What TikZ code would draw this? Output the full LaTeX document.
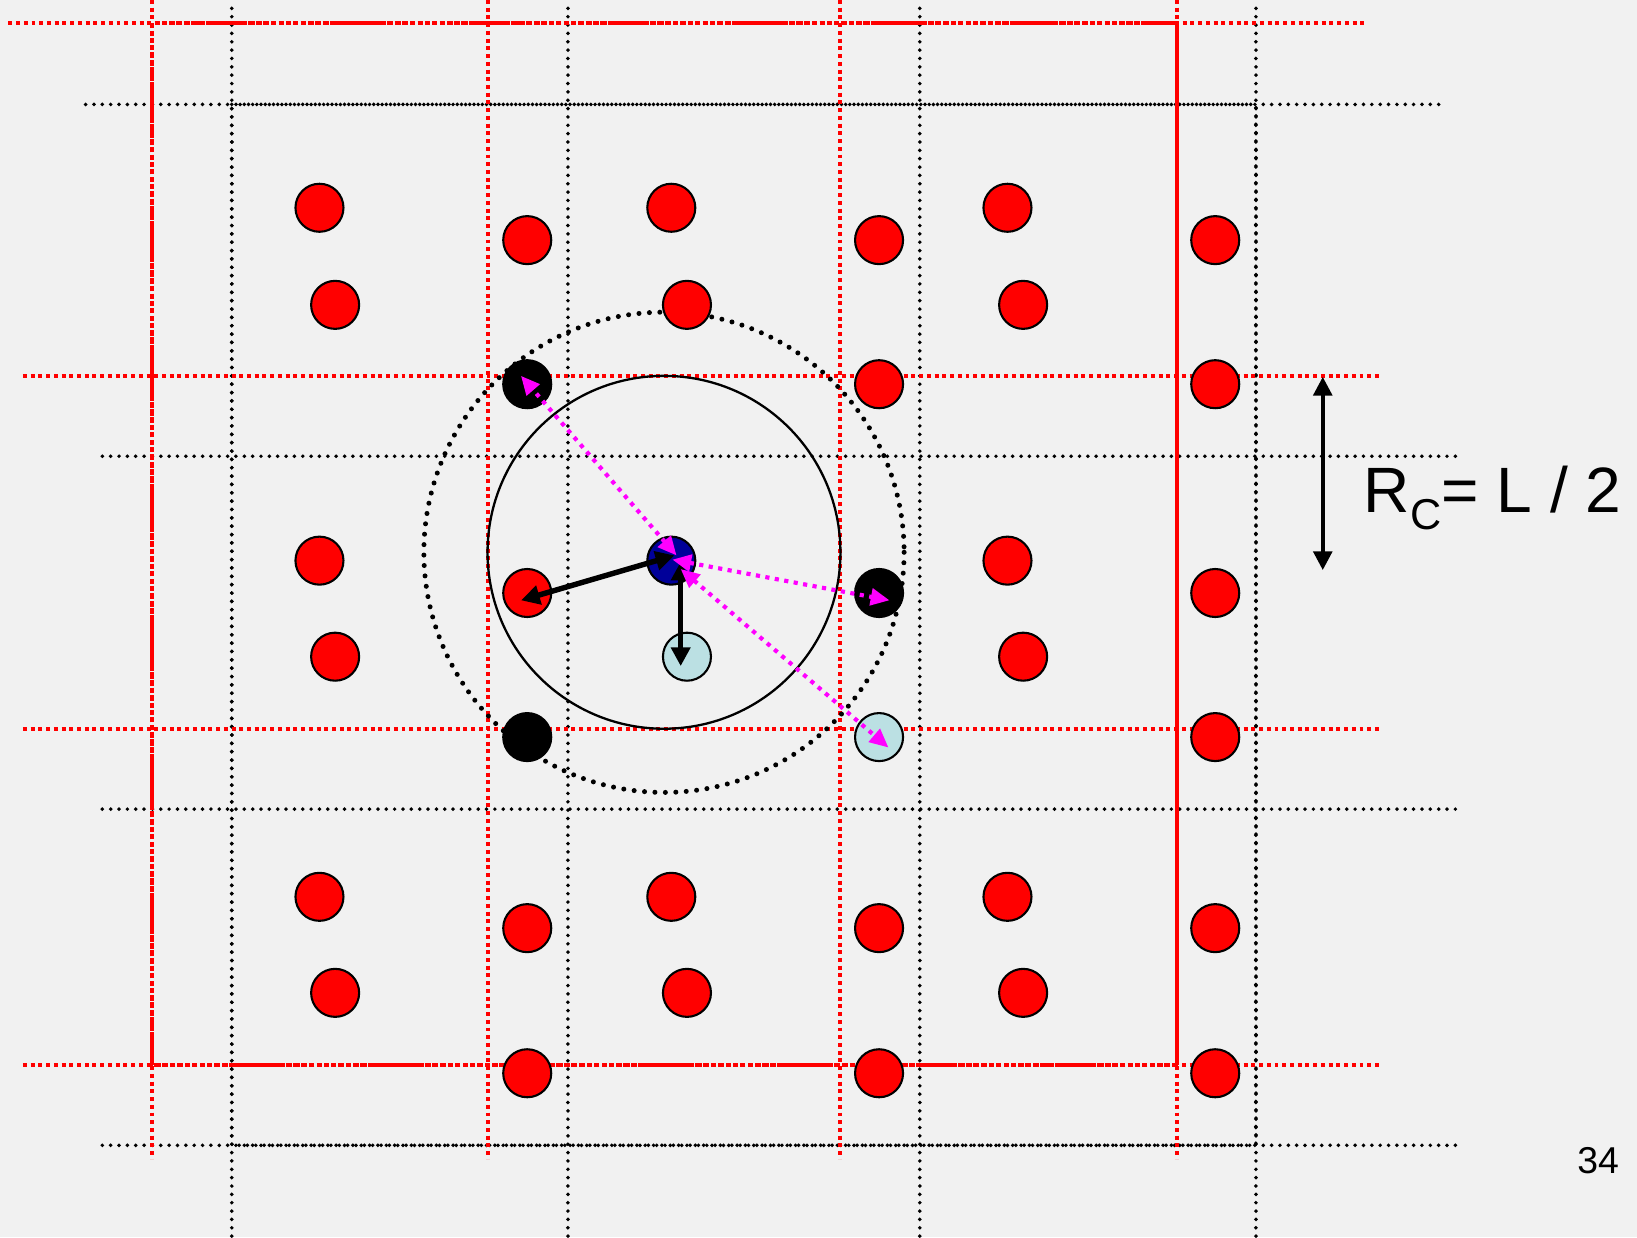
\documentclass[tikz,border=0pt]{standalone}
\usepackage{fontspec}
\setmainfont{Liberation Sans}
\usetikzlibrary{arrows.meta}
\definecolor{bg}{RGB}{241,241,241}
\definecolor{navy}{RGB}{0,0,153}
\definecolor{lblue}{RGB}{187,224,227}
\definecolor{mag}{RGB}{255,0,255}
\begin{document}
\begin{tikzpicture}[x=0.5pt,y=-0.5pt,
  redgrid/.style={red,line width=1.9pt,dash pattern=on 1.9pt off 1.8pt},
  redbox/.style={red,line width=1.9pt,dash pattern=on 2.4pt off 1.1pt},
  blkgrid/.style={black,line width=1.9pt,line cap=round,dash pattern=on 0pt off 4pt},
  blkbox/.style={black,line width=1.9pt,line cap=round,dash pattern=on 0pt off 4pt,dash phase=2pt},
  part/.style={circle,draw=black,line width=1pt,minimum size=23pt,inner sep=0pt},
  redp/.style={part,fill=red},
  blkp/.style={part,fill=black},
  bluep/.style={part,fill=navy},
  lbp/.style={part,fill=lblue},
  blkarrow/.style={line width=2.6pt,{Triangle[length=9pt,width=9pt]}-{Triangle[length=9pt,width=9pt]}},
  magarrow/.style={mag,line width=2pt,dash pattern=on 2pt off 2.6pt,{Triangle[length=9pt,width=8pt]}-{Triangle[length=9pt,width=8pt]}},
  lbl/.style={inner sep=0pt}]
\fill[bg] (0,0) rectangle (1568,1185);
\useasboundingbox (0,0) rectangle (1568,1185);
% black grid
\foreach \x in {222,544,881,1203} \draw[blkgrid] (\x,8) -- (\x,1185);
\draw[blkgrid] (82,100) -- (1382,100);
\foreach \y in {437,775,1097} \draw[blkgrid] (98,\y) -- (1398,\y);
\draw[blkbox] (222,100) rectangle (1203,1097);
% red grid
\foreach \x in {146,467,805,1127} \draw[redgrid] (\x,0) -- (\x,1110);
\draw[redgrid] (8,22) -- (1307,22);
\foreach \y in {360,698,1020} \draw[redgrid] (22,\y) -- (1323,\y);
\draw[redbox] (1127,1020) -- (146,1020) -- (146,22) -- (1127,22);
\draw[red,line width=1.9pt] (1127,22) -- (1127,1020);
% cutoff circles
\coordinate (cc) at (636,529);
\draw[black,line width=1.1pt] (cc) circle[radius=169];
\draw[black,line width=2.4pt,line cap=round,dash pattern=on 0pt off 5pt] (cc) circle[radius=230];
% particles
\node[redp] (a1) at (306,199) {};
\node[redp] (a2) at (643,199) {};
\node[redp] (a3) at (965,199) {};
\node[redp] (b1) at (505,230) {};
\node[redp] (b2) at (842,230) {};
\node[redp] (b3) at (1164,230) {};
\node[redp] (c1) at (321,292) {};
\node[redp] (c2) at (658,292) {};
\node[redp] (c3) at (980,292) {};
\node[blkp] (d1) at (505,368) {};
\node[redp] (d2) at (842,368) {};
\node[redp] (d3) at (1164,368) {};
\node[redp] (e1) at (306,537) {};
\node[bluep] (e2) at (643,537) {};
\node[redp] (e3) at (965,537) {};
\node[redp] (f1) at (505,568) {};
\node[blkp] (f2) at (842,568) {};
\node[redp] (f3) at (1164,568) {};
\node[redp] (g1) at (321,629) {};
\node[lbp] (g2) at (658,629) {};
\node[redp] (g3) at (980,629) {};
\node[blkp] (h1) at (505,706) {};
\node[lbp] (h2) at (842,706) {};
\node[redp] (h3) at (1164,706) {};
\node[redp] (i1) at (306,859) {};
\node[redp] (i2) at (643,859) {};
\node[redp] (i3) at (965,859) {};
\node[redp] (j1) at (505,889) {};
\node[redp] (j2) at (842,889) {};
\node[redp] (j3) at (1164,889) {};
\node[redp] (k1) at (321,951) {};
\node[redp] (k2) at (658,951) {};
\node[redp] (k3) at (980,951) {};
\node[redp] (l1) at (505,1028) {};
\node[redp] (l2) at (842,1028) {};
\node[redp] (l3) at (1164,1028) {};
% arrows
\coordinate (p0) at (646,532);
\coordinate (pl) at (499,575);
\coordinate (pv0) at (652,538);
\coordinate (pv1) at (652,638);
\draw[blkarrow] (p0) -- (pl);
\draw[blkarrow] (pv0) -- (pv1);
\coordinate (m0) at (648,532);
\coordinate (m1) at (499,360);
\coordinate (m2) at (644,536);
\coordinate (m3) at (852,575);
\coordinate (m4) at (652,545);
\coordinate (m5) at (851,716);
\draw[magarrow] (m0) -- (m1);
\draw[magarrow] (m2) -- (m3);
\draw[magarrow] (m4) -- (m5);
% R_C arrow and label
\coordinate (r0) at (1267,361);
\coordinate (r1) at (1267,546);
\draw[blkarrow,line width=1.8pt] (r0) -- (r1);
\node[lbl,anchor=base west] (rc) at (1306,491) {\fontsize{30.7}{31}\selectfont R\raisebox{-8pt}{\fontsize{20.7}{21}\selectfont C}= L / 2};
\node[lbl,anchor=base east] (pg) at (1551,1124) {\fontsize{17.9}{18}\selectfont 34};
\end{tikzpicture}
\end{document}
